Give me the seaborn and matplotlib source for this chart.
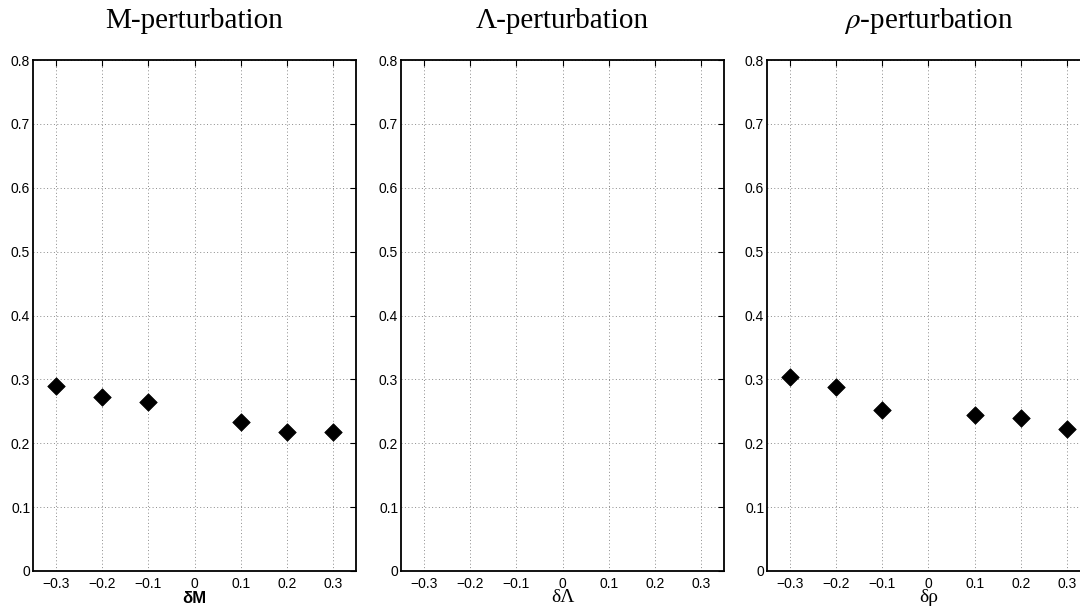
import matplotlib
matplotlib.use("Agg")
import matplotlib.pyplot as plt
import seaborn as sns
import pandas as pd

# Perturbation sizes and the measured response for each parameter
delta_M = [-0.3, -0.2, -0.1, 0.1, 0.2, 0.3]
resp_M = [0.290, 0.273, 0.265, 0.233, 0.218, 0.217]

delta_Lambda = []
resp_Lambda = []

delta_rho = [-0.3, -0.2, -0.1, 0.1, 0.2, 0.3]
resp_rho = [0.304, 0.288, 0.252, 0.245, 0.240, 0.222]

x_ticks = [-0.3, -0.2, -0.1, 0, 0.1, 0.2, 0.3]
x_tick_labels = ["\u22120.3", "\u22120.2", "\u22120.1", "0", "0.1", "0.2", "0.3"]
y_ticks = [0, 0.1, 0.2, 0.3, 0.4, 0.5, 0.6, 0.7, 0.8]
y_tick_labels = ["0", "0.1", "0.2", "0.3", "0.4", "0.5", "0.6", "0.7", "0.8"]

titles = ["M-perturbation", "\u039b-perturbation", r"$\rho$-perturbation"]
xlabels = ["\u03b4M", "\u03b4\u039b", "\u03b4\u03c1"]

sns.set_style("white")
plt.rcParams["font.family"] = ["Liberation Sans", "DejaVu Sans"]
plt.rcParams["mathtext.fontset"] = "stix"
plt.rcParams["text.color"] = "black"
plt.rcParams["axes.labelcolor"] = "black"

fig = plt.figure(figsize=(10.8, 6.15), dpi=100)
W, H = 1080, 615
lefts = [33, 401, 767]
ax_w, top, bottom = 323, 60, 571

series = [(delta_M, resp_M), (delta_Lambda, resp_Lambda), (delta_rho, resp_rho)]

for i, (xs, ys) in enumerate(series):
    ax = fig.add_axes([lefts[i] / W, (H - bottom) / H, ax_w / W, (bottom - top) / H])
    df = pd.DataFrame({"delta": pd.Series(xs, dtype=float), "value": pd.Series(ys, dtype=float)})
    sns.scatterplot(data=df, x="delta", y="value", marker="D", s=80, color="black",
                    edgecolor="black", linewidth=0.5, ax=ax, zorder=3)
    ax.set_xlim(-0.35, 0.35)
    ax.set_ylim(0, 0.8)
    ax.set_xticks(x_ticks)
    ax.set_xticklabels(x_tick_labels)
    ax.set_yticks(y_ticks)
    ax.set_yticklabels(y_tick_labels)
    ax.tick_params(direction="in", length=4, width=0.8, top=True, right=True,
                   labelsize=10, colors="black")
    ax.tick_params(axis="x", pad=4)
    ax.tick_params(axis="y", pad=2)
    ax.grid(True, linestyle=(0, (1, 2.5)), color="#8a8a8a", linewidth=0.7)
    for sp in ax.spines.values():
        sp.set_linewidth(1.3)
        sp.set_color("black")
        sp.set_visible(True)
    ax.set_title(titles[i], fontsize=21, pad=23, color="black",
                 family=["Liberation Serif", "DejaVu Serif"])
    if i == 0:
        ax.set_xlabel(xlabels[i], fontsize=12, fontweight="bold", labelpad=0)
    else:
        ax.set_xlabel(xlabels[i], fontsize=14, labelpad=-1,
                      family=["Liberation Serif", "DejaVu Serif"])
    ax.set_ylabel("")

fig.savefig("out.png", dpi=100)
